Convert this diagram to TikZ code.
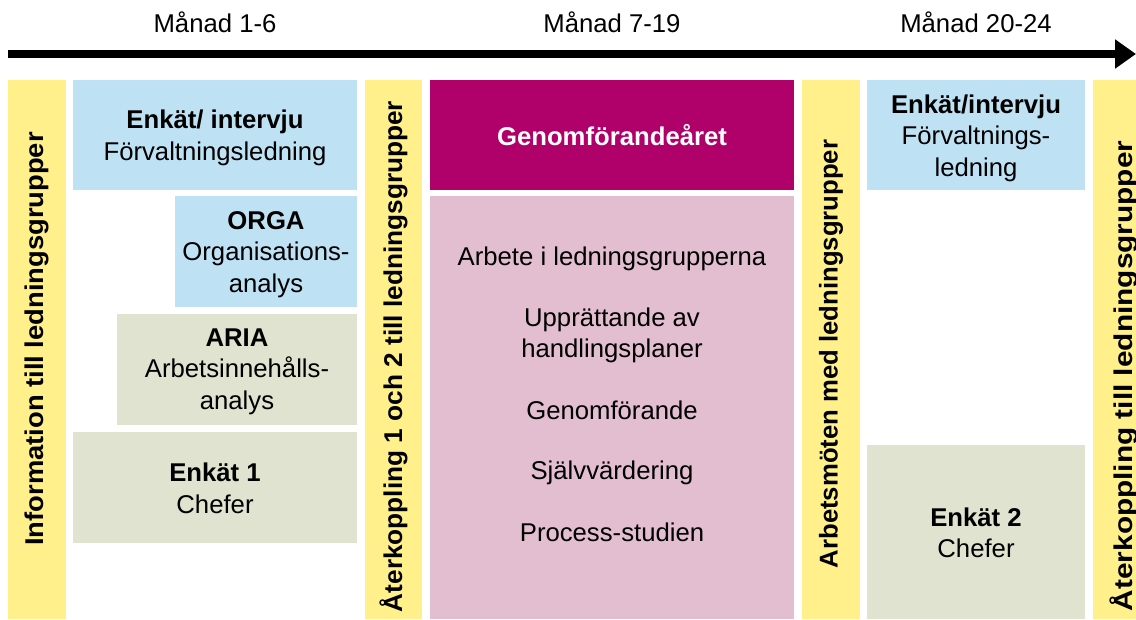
\documentclass[tikz,border=0pt]{standalone}
\usepackage{fontspec}
\setmainfont{Liberation Sans}
\usetikzlibrary{arrows.meta}
\definecolor{ylw}{RGB}{255,240,140}
\definecolor{blu}{RGB}{190,226,244}
\definecolor{grn}{RGB}{223,227,207}
\definecolor{mag}{RGB}{176,0,106}
\definecolor{pnk}{RGB}{227,190,208}
\tikzset{
  blk/.style={rectangle, inner sep=0pt},
  bar/.style={blk, fill=ylw},
  lbl/.style={inner sep=0pt, align=center, font=\fontsize{25.7}{31.5}\selectfont},
  vlbl/.style={lbl, rotate=90, font=\fontsize{25.7}{31.5}\selectfont\bfseries},
}
\begin{document}
\begin{tikzpicture}[x=1pt,y=-1pt]
\useasboundingbox (0,0) rectangle (1136,619);
\clip (0,0) rectangle (1136,619);
\fill[white] (0,0) rectangle (1136,619);
% timeline
\node[lbl] (m1) at (215,22) {Månad 1-6};
\node[lbl] (m2) at (612,22) {Månad 7-19};
\node[lbl] (m3) at (976,22) {Månad 20-24};
\coordinate (a0) at (8,54);
\coordinate (a1) at (1136,54);
\draw[line width=8pt, -{Triangle[length=21pt,width=28pt]}] (a0) -- (a1);
% yellow bars
\node[bar, minimum width=58, minimum height=539] (y1) at (37,349.5) {};
\node[vlbl] (t1) at (37,339) {\scalebox{1.065}[1]{Information till ledningsgrupper}};
\node[bar, minimum width=57, minimum height=539] (y2) at (393.5,349.5) {};
\node[vlbl] (t2) at (393.5,356.5) {\scalebox{1.02}[1]{Återkoppling 1 och 2 till ledningsgrupper}};
\node[bar, minimum width=58, minimum height=539] (y3) at (831,349.5) {};
\node[vlbl] (t3) at (831,354) {Arbetsmöten med ledningsgrupper};
\node[bar, minimum width=62, minimum height=539] (y4) at (1124,349.5) {};
\node[vlbl] (t4) at (1124,376) {\scalebox{1.16}[1]{Återkoppling till ledningsgrupper}};
% left column
\node[blk, fill=blu, minimum width=284, minimum height=110] (b1) at (215,135) {};
\node[lbl, yshift=-3pt] (b1t) at (b1.center) {\textbf{Enkät/ intervju}\\Förvaltningsledning};
\node[blk, fill=blu, minimum width=182, minimum height=111] (b2) at (266,251.5) {};
\node[lbl, yshift=-3pt] (b2t) at (b2.center) {\textbf{ORGA}\\Organisations-\\analys};
\node[blk, fill=grn, minimum width=240, minimum height=111] (b3) at (237,369.5) {};
\node[lbl, yshift=-2pt] (b3t) at (b3.center) {\textbf{ARIA}\\Arbetsinnehålls-\\analys};
\node[blk, fill=grn, minimum width=284, minimum height=111] (b4) at (215,487.5) {};
\node[lbl, yshift=-1pt] (b4t) at (b4.center) {\textbf{Enkät 1}\\Chefer};
% middle
\node[blk, fill=mag, minimum width=364, minimum height=110] (g1) at (612,135) {};
\node[lbl, text=white] (g1t) at (g1.center) {\textbf{Genomförandeåret}};
\node[blk, fill=pnk, minimum width=364, minimum height=423] (g2) at (612,407.5) {};
\node[lbl] (p1) at (612,259) {Arbete i ledningsgrupperna};
\node[lbl] (p2) at (612,335.5) {Upprättande av\\handlingsplaner};
\node[lbl] (p3) at (612,410) {Genomförande};
\node[lbl] (p4) at (612,473) {Självvärdering};
\node[lbl] (p5) at (612,532) {Process-studien};
% right column
\node[blk, fill=blu, minimum width=218, minimum height=110] (r1) at (976,135) {};
\node[lbl, yshift=-3pt] (r1t) at (r1.center) {\textbf{Enkät/intervju}\\Förvaltnings-\\ledning};
\node[blk, fill=grn, minimum width=218, minimum height=174] (r2) at (976,532) {};
\node[lbl, yshift=-1pt] (r2t) at (r2.center) {\textbf{Enkät 2}\\Chefer};
\end{tikzpicture}
\end{document}
